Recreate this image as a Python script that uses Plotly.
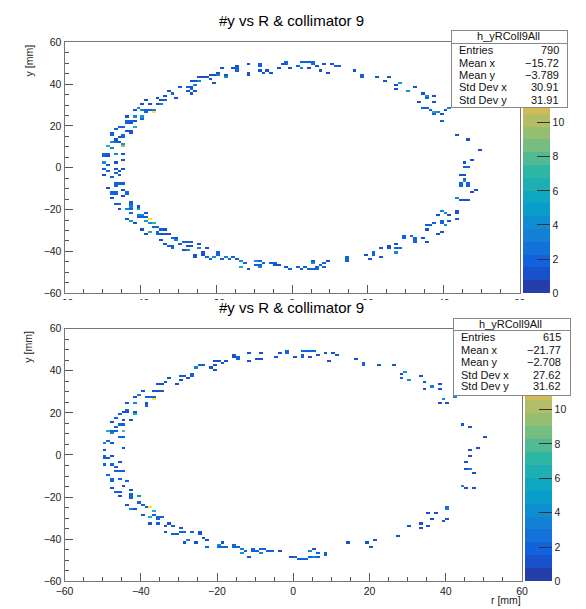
import numpy as np
import plotly.graph_objects as go

W, H = 586, 609

# ---------------- data (bin lower edge x [mm], bin lower edge y [mm], entries) -------------
top_upper_left = [
    (-27,41,1),(-26,41,1),(-25,41,3),(-25,43,1),(-24,43,1),(-22,44,1),(-22,42,1),(-26,39,3),
    (-28,38,2),(-27,38,1),(-27,37,2),(-28,36,1),(-26,36,1),(-27,35,1),(-30,38,2),(-33,36,1),
    (-32,35,2),(-31,33,1),(-34,34,1),(-36,33,1),(-34,32,2),(-35,32,1),(-39,32,1),(-40,30,1),
    (-38,30,1),(-36,30,1),(-35,30,3),(-42,27,1),(-41,28,4),(-40,27,3),(-39,27,2),(-38,27,2),
    (-37,27,3),(-39,26,2),(-37,26,14),(-44,24,1),(-42,24,4),(-40,24,5),(-40,23,2),(-44,22,2),
    (-43,22,2),(-43,21,1),(-44,21,2),(-46,19,2),(-45,19,2),(-42,22,1),(-42,19,6),(-47,18,2),
    (-48,15,2),(-48,16,2),(-46,14,1),(-45,15,2),(-45,14,2),(-44,17,1),(-43,17,1),(-43,16,1),
    (-47,13,1),(-48,12,4),(-47,12,2),(-46,12,1),(-45,11,5),(-49,10,6),(-48,9,4),(-45,10,9),
    (-50,6,2),(-49,6,2),(-50,5,2),(-49,5,1),(-47,6,4),(-45,6,1),(-50,2,4),(-47,2,1),(-49,1,2),
    (-45,3,1),
]
top_lower_left = [
    (-50,-1,2),(-49,-2,2),(-47,-1,1),(-46,-2,1),(-45,-1,1),(-50,-4,1),(-48,-5,2),(-47,-3,2),
    (-46,-4,2),(-49,-10,1),(-47,-8,2),(-46,-8,2),(-45,-8,2),(-47,-9,2),(-48,-12,2),(-47,-12,2),
    (-48,-13,2),(-47,-13,2),(-45,-11,1),(-44,-13,2),(-44,-12,2),(-45,-14,1),(-48,-15,1),
    (-47,-18,2),(-46,-18,2),(-46,-20,1),(-43,-17,2),(-43,-18,2),(-43,-19,3),(-43,-20,2),
    (-43,-22,2),(-44,-20,3),(-41,-19,1),(-41,-20,5),(-41,-23,3),(-40,-23,3),(-41,-24,2),
    (-40,-24,2),(-39,-22,1),(-39,-24,2),(-38,-25,14),(-38,-27,4),(-37,-27,7),(-39,-26,5),
    (-44,-25,1),(-43,-26,5),(-42,-27,1),(-40,-30,1),(-38,-31,6),(-39,-32,1),(-37,-29,2),
    (-36,-29,2),(-35,-30,2),(-34,-30,1),(-36,-31,2),(-36,-32,2),(-35,-32,1),(-34,-32,1),
    (-33,-32,1),(-35,-35,1),(-32,-34,2),(-31,-34,1),(-31,-35,3),(-34,-37,1),(-33,-38,2),
    (-32,-38,2),(-32,-39,2),(-29,-36,2),(-28,-36,2),(-27,-36,2),(-30,-37,2),(-28,-38,1),
    (-29,-40,1),(-28,-40,4),(-27,-38,1),(-25,-37,1),(-25,-39,4),(-24,-41,1),(-26,-42,1),
    (-23,-39,1),(-24,-42,1),(-26,-43,1),
]
top_bottom_arc = [
    (-23,-43,2),(-22,-44,2),(-21,-43,4),(-20,-41,2),(-20,-42,2),(-19,-44,2),(-18,-43,3),
    (-17,-44,2),(-16,-43,2),(-15,-44,2),(-14,-45,4),(-14,-48,6),(-13,-46,2),(-12,-49,1),
    (-10,-45,4),(-9,-45,2),(-10,-47,2),(-9,-47,2),(-8,-46,2),(-6,-46,2),(-5,-46,2),(-9,-48,3),
    (-5,-47,1),(-4,-47,1),(-2,-48,1),(-1,-49,2),(1,-48,2),(2,-49,2),(3,-48,2),(4,-49,2),
    (5,-49,2),(6,-48,2),(6,-49,2),(5,-46,4),(5,-45,1),(7,-47,2),(8,-46,2),(8,-48,2),(9,-45,1),
    (14,-43,2),(14,-44,2),(14,-45,2),(19,-42,1),(20,-44,1),(21,-42,2),(21,-41,2),(23,-43,1),
    (23,-39,1),(25,-38,1),(25,-39,1),(27,-39,2),(28,-39,2),(27,-41,4),(27,-37,1),(29,-34,2),
    (29,-33,2),(31,-33,2),(32,-34,2),(32,-35,2),(32,-36,2),(34,-34,1),(35,-36,1),(35,-30,1),
    (35,-28,2),(36,-28,2),(37,-27,2),(38,-23,1),(40,-22,4),(41,-23,1),(43,-22,1),(39,-26,2),
    (39,-27,2),(40,-28,4),(41,-26,1),(43,-25,1),(38,-32,1),(39,-31,1),
]
top_right_side = [
    (43,15,1),(46,13,1),(49,8,1),(47,3,1),(45,2,1),(45,0,2),(46,0,2),(44,-4,1),(45,-4,1),
    (45,-7,4),(45,-6,2),(44,-8,2),(44,-9,2),(46,-9,2),(46,-8,2),(48,-11,1),(47,-12,1),
    (43,-15,4),(44,-16,1),(45,-16,1),(46,-16,1),(39,-21,3),(43,-21,1),(38,-23,1),
]
top_upper_arc = [
    (-23,43,1),(-22,44,1),(-21,44,1),(-20,45,1),(-19,47,1),(-18,43,4),(-20,44,3),(-22,42,1),
    (-21,40,1),(-18,44,1),(-16,47,1),(-15,48,1),(-15,47,2),(-15,46,2),(-12,44,1),(-12,45,1),
    (-12,49,1),(-9,46,1),(-9,48,2),(-9,49,2),(-8,45,1),(-7,46,1),(-6,45,1),(-4,47,1),
    (-3,49,1),(-2,50,2),(-2,49,2),(-1,47,1),(1,48,2),(2,47,4),(2,50,2),(3,50,2),(4,50,2),
    (5,50,2),(5,49,2),(4,47,1),(6,48,1),(7,46,1),(8,49,1),(9,45,1),(10,49,1),(11,48,2),
    (12,48,2),(16,46,1),(18,44,2),(18,43,2),(22,43,1),(25,43,1),(24,41,1),(28,40,5),
    (27,39,1),(27,37,1),(30,36,4),(32,38,1),(34,35,1),(35,34,4),(35,33,2),(37,34,1),
    (33,31,1),(37,31,1),(34,28,2),(35,28,2),(36,27,2),(37,26,6),(37,25,2),(38,26,4),
    (39,25,1),(40,27,1),(41,28,3),(39,22,2),
]

bot_upper_left = [
    (-2,48,2),(-2,49,2),(-4,48,1),(-5,46,1),(-9,48,1),(-9,45,1),(-10,45,1),(-12,48,1),
    (-12,44,1),(-15,46,2),(-15,45,2),(-16,46,1),(-16,47,1),(-19,43,1),(-18,44,1),(-20,44,1),
    (-22,41,1),(-21,42,1),(-21,44,1),(-21,40,1),(-24,42,2),(-25,42,2),(-26,41,3),(-27,38,2),
    (-27,37,2),(-28,36,1),(-29,37,1),(-30,37,2),(-30,35,1),(-31,33,1),(-33,36,1),(-34,34,1),
    (-35,33,1),(-36,33,1),(-36,30,1),(-35,30,1),(-37,30,1),(-40,30,1),(-41,28,3),(-42,27,1),
    (-39,27,2),(-38,27,2),(-37,27,2),(-37,26,14),(-39,24,1),(-39,23,2),(-42,24,4),(-44,24,1),
    (-42,20,1),(-42,19,6),(-44,21,2),(-44,20,1),(-45,20,1),(-46,19,2),(-47,17,2),(-45,16,1),
    (-43,16,1),(-48,15,1),(-46,14,2),(-45,14,2),(-47,13,2),(-49,11,6),(-48,11,2),(-47,11,2),
    (-45,11,8),(-48,10,3),(-46,8,2),(-45,8,2),(-49,6,2),(-50,5,3),(-48,5,1),(-45,3,1),
    (-50,2,1),
]
bot_lower_left = [
    (-50,-1,2),(-50,-2,2),(-49,-2,1),(-48,-1,1),(-50,-5,2),(-48,-5,2),(-47,-6,2),(-46,-4,1),
    (-49,-10,2),(-47,-8,2),(-46,-8,2),(-45,-8,2),(-48,-12,2),(-48,-13,2),(-46,-12,2),
    (-48,-16,1),(-44,-13,2),(-45,-15,1),(-46,-18,2),(-47,-18,2),(-46,-20,1),(-43,-17,1),
    (-43,-19,2),(-43,-20,2),(-43,-21,2),(-44,-24,1),(-43,-26,4),(-41,-20,4),(-42,-26,1),
    (-41,-23,2),(-40,-24,2),(-38,-25,14),(-37,-27,6),(-39,-25,2),(-40,-29,1),(-38,-30,6),
    (-38,-33,1),(-37,-29,2),(-36,-30,2),(-35,-30,2),(-36,-31,2),(-36,-33,2),(-34,-34,1),
    (-33,-33,1),(-32,-34,2),(-34,-37,1),(-32,-38,2),(-31,-38,2),(-30,-35,1),(-30,-37,2),
    (-29,-37,2),(-27,-37,2),(-29,-42,1),(-28,-41,3),(-25,-37,1),(-25,-38,1),(-24,-40,1),
    (-26,-42,1),(-23,-44,2),(-23,-41,1),(-20,-43,4),(-20,-44,2),(-19,-44,2),(-18,-44,2),
    (-19,-42,1),(-16,-43,2),(-16,-44,2),(-15,-44,2),(-14,-45,3),(-14,-47,5),(-13,-46,2),
    (-12,-49,1),(-11,-45,2),(-9,-45,2),(-8,-45,2),(-11,-46,2),(-10,-46,2),(-9,-47,3),
    (-7,-46,2),(-6,-46,2),(-4,-46,1),(-1,-49,1),
]
bot_right = [
    (0,46,1),(2,49,2),(3,49,2),(4,49,2),(5,49,2),(2,46,2),(2,47,2),(4,46,1),(6,47,1),(8,48,1),
    (9,44,1),(10,48,1),(11,47,1),(16,45,1),(18,43,2),(18,42,2),(22,42,1),(26,42,1),(28,38,1),
    (28,36,2),(29,39,5),(30,35,4),(33,37,1),(34,34,1),(34,31,1),(36,32,3),(38,33,1),(38,31,1),
    (39,26,3),(38,24,1),(40,24,1),(42,27,3),(44,14,1),(46,13,1),(50,8,1),(48,3,1),(46,2,1),
    (46,-1,1),(45,-4,1),(45,-7,1),(46,-7,3),(47,-9,1),(44,-15,3),(45,-16,1),(47,-16,1),
    (40,-26,3),(40,-25,2),(37,-28,1),(35,-28,1),(36,-31,1),(39,-32,1),(40,-31,1),(33,-33,1),
    (33,-35,1),(30,-34,1),(35,-34,1),(27,-39,1),(21,-41,1),(20,-44,1),(19,-42,1),(14,-42,1),
    (8,-47,2),(8,-48,2),(6,-47,2),(6,-49,2),(4,-46,3),(5,-45,1),(5,-49,4),(4,-49,2),(3,-50,2),
    (2,-50,2),(1,-50,2),(0,-49,2),
]

title_text = "#y vs R & collimator 9"
hist_name = "h_yRColl9All"
stat_labels = ["Entries", "Mean x", "Mean y", "Std Dev x", "Std Dev y"]
top_stats = ["790", "\u221215.72", "\u22123.789", "30.91", "31.91"]
bot_stats = ["615", "\u221221.77", "\u22122.708", "27.62", "31.62"]
axis_ticks = [-60, -40, -20, 0, 20, 40, 60]
z_ticks = [0, 2, 4, 6, 8, 10]
z_max = 15
n_bins = 120

# ---------------- ROOT kBird palette, 20 contour bands ----------------
stops = [0.0, 0.125, 0.25, 0.375, 0.5, 0.625, 0.75, 0.875, 1.0]
red = [0.2082, 0.0592, 0.0780, 0.0232, 0.1802, 0.5301, 0.8186, 0.9956, 0.9764]
green = [0.1664, 0.3599, 0.5041, 0.6419, 0.7178, 0.7492, 0.7328, 0.7862, 0.9832]
blue = [0.5293, 0.8684, 0.8385, 0.7914, 0.6425, 0.4662, 0.3499, 0.1968, 0.0539]


def bird(t):
    r = np.interp(t, stops, red)
    g = np.interp(t, stops, green)
    b = np.interp(t, stops, blue)
    return "rgb(%d,%d,%d)" % (round(r * 255), round(g * 255), round(b * 255))


nb = 20
cscale = []
for i in range(nb):
    c = bird(min(1.0, (i + 0.99) / nb))
    cscale.append([i / nb, c])
    cscale.append([(i + 1) / nb, c])

centers = np.arange(-60, 60) + 0.5


def grid(*lists):
    z = [[None] * n_bins for _ in range(n_bins)]
    for lst in lists:
        for x, y, c in lst:
            z[y + 60][x + 60] = c
    return z


z_top = grid(top_upper_left, top_lower_left, top_bottom_arc, top_right_side, top_upper_arc)
z_bot = grid(bot_upper_left, bot_lower_left, bot_right)

FONT = "Liberation Sans, Arial, Helvetica, sans-serif"


def fx(p):
    return p / W


def fy(p):
    return 1 - p / H


def cbar(x_left, y_bottom, length):
    return dict(
        x=fx(x_left), xanchor="left", xpad=0, thickness=27,
        y=fy(y_bottom), yanchor="bottom", ypad=0, len=length, lenmode="pixels",
        outlinewidth=0, tickmode="array", tickvals=z_ticks,
        ticks="inside", ticklen=13, tickcolor="#333", tickwidth=1,
        tickfont=dict(family=FONT, size=10.5, color="#222"),
    )


fig = go.Figure()
fig.add_trace(go.Heatmap(
    x=centers, y=centers, z=z_top, zmin=0, zmax=z_max, colorscale=cscale,
    xaxis="x", yaxis="y", hoverongaps=False, colorbar=cbar(527, 293, 256)))
fig.add_trace(go.Heatmap(
    x=centers, y=centers, z=z_bot, zmin=0, zmax=z_max, colorscale=cscale,
    xaxis="x2", yaxis="y2", hoverongaps=False, colorbar=cbar(529.5, 587, 258)))


def axis(domain, anchor):
    return dict(
        domain=domain, anchor=anchor, range=[-60, 60], tickmode="array",
        tickvals=axis_ticks, ticks="inside", ticklen=8, tickcolor="#555",
        minor=dict(tickmode="linear", tick0=0, dtick=5, ticks="inside", ticklen=4,
                   tickcolor="#555", showgrid=False),
        showline=True, linecolor="#777", linewidth=1, mirror=True,
        showgrid=False, zeroline=False,
        tickfont=dict(family=FONT, size=10.5, color="#222"),
    )


fig.update_layout(
    width=W, height=H, margin=dict(l=0, r=0, t=0, b=0),
    paper_bgcolor="white", plot_bgcolor="white",
    xaxis=axis([fx(57), fx(524)], "y"),
    yaxis=axis([fy(293), fy(37)], "x"),
    xaxis2=axis([fx(57), fx(526.5)], "y2"),
    yaxis2=axis([fy(587), fy(329)], "x2"),
    font=dict(family=FONT),
)

# cover the lower half of the top panel's x labels (overdrawn by the lower pad)
fig.add_shape(type="rect", xref="paper", yref="paper", x0=0, x1=1,
              y0=fy(322), y1=fy(300), fillcolor="white", line_width=0, layer="above")

ann = []
# titles
for yc in (15, 308):
    ann.append(dict(text=title_text, x=fx(290), y=fy(yc), xref="paper", yref="paper",
                    xanchor="center", yanchor="middle", showarrow=False,
                    font=dict(family=FONT, size=15, color="black")))
# y axis titles
for yc in (55, 347):
    ann.append(dict(text="y [mm]", x=fx(20), y=fy(yc), xref="paper", yref="paper",
                    xanchor="center", yanchor="middle", textangle=-90, showarrow=False,
                    font=dict(family=FONT, size=10.5, color="#222")))
# x axis title (bottom panel)
ann.append(dict(text="r [mm]", x=fx(527), y=fy(605.5), xref="paper", yref="paper",
                xanchor="right", yanchor="middle", showarrow=False,
                font=dict(family=FONT, size=10.5, color="#222")))


def stats_box(x0, x1, y0, y1, hdr_y, line_y, rows_y, lab_x, val_x, values):
    out = []
    out.append(dict(text=" ", x=fx(x0), y=fy(y0), xref="paper", yref="paper",
                    xanchor="left", yanchor="top", showarrow=False,
                    width=x1 - x0 - 2, height=y1 - y0 - 2, borderpad=0,
                    bgcolor="white", bordercolor="#888", borderwidth=1))
    out.append(dict(text=" ", x=fx(x0), y=fy(y0), xref="paper", yref="paper",
                    xanchor="left", yanchor="top", showarrow=False,
                    width=x1 - x0 - 2, height=line_y - y0 - 1, borderpad=0,
                    bgcolor="white", bordercolor="#888", borderwidth=1))
    out.append(dict(text=hist_name, x=fx((x0 + x1) / 2), y=fy(hdr_y), xref="paper",
                    yref="paper", xanchor="center", yanchor="middle", showarrow=False,
                    font=dict(family=FONT, size=11, color="#111")))
    for lab, val, yy in zip(stat_labels, values, rows_y):
        out.append(dict(text=lab, x=fx(lab_x), y=fy(yy), xref="paper", yref="paper",
                        xanchor="left", yanchor="middle", showarrow=False,
                        font=dict(family=FONT, size=11, color="#111")))
        out.append(dict(text=val, x=fx(val_x), y=fy(yy), xref="paper", yref="paper",
                        xanchor="right", yanchor="middle", showarrow=False,
                        font=dict(family=FONT, size=11, color="#111")))
    return out


ann += stats_box(454, 571, 24, 102, 31, 37, [45, 58, 70, 83, 96], 460, 566, top_stats)
ann += stats_box(456, 574, 318, 396, 324, 330, [338, 351, 363, 376, 388], 462, 569, bot_stats)

fig.update_layout(annotations=ann)

fig.write_html("out.html", config={"displayModeBar": False},
               post_script="document.body.style.margin='0';document.body.style.overflow='hidden';")
